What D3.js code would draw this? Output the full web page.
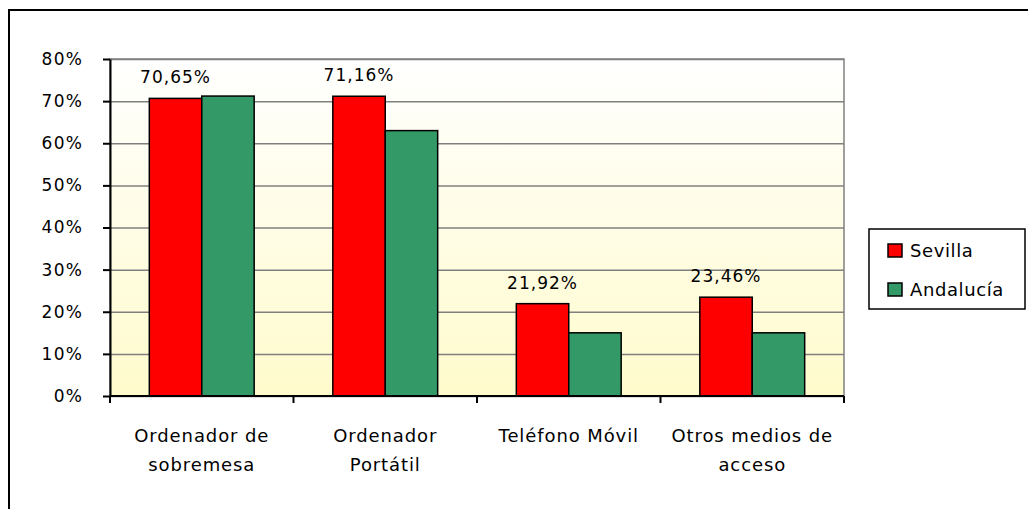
<!DOCTYPE html>
<html>
<head>
<meta charset="utf-8">
<script src="https://cdn.jsdelivr.net/npm/d3@7"></script>
<style>
  body { margin: 0; background: #fff; }
  text { font-family: "DejaVu Sans", sans-serif; fill: #000; }
</style>
</head>
<body>
<svg id="chart"></svg>
<script>
// data
var categories = ["Ordenador de\nsobremesa", "Ordenador\nPortátil", "Teléfono Móvil", "Otros medios de\nacceso"];
var seriesNames = ["Sevilla", "Andalucía"];
var sevilla = [70.65, 71.16, 21.92, 23.46];
var andalucia = [71.2, 63.0, 15.0, 15.0];
var yTicks = [0, 10, 20, 30, 40, 50, 60, 70, 80];

var width = 1028;
var height = 509;
var plot = {left: 110, right: 844, top: 59, bottom: 396};
var colors = {"Sevilla": "#ff0000", "Andalucía": "#339966"};

var svg = d3.select("#chart")
    .attr("width", width)
    .attr("height", height);

// outer chart border
svg.append("rect")
    .attr("x", 9).attr("y", 10)
    .attr("width", 1040).attr("height", 520)
    .attr("fill", "#fff")
    .attr("stroke", "#000")
    .attr("stroke-width", 2);

var defs = svg.append("defs");
var grad = defs.append("linearGradient")
    .attr("id", "bg")
    .attr("x1", 0).attr("y1", 0).attr("x2", 0).attr("y2", 1);
grad.append("stop").attr("offset", "0%").attr("stop-color", "#ffffff");
grad.append("stop").attr("offset", "100%").attr("stop-color", "#fffbcc");

var xScale = d3.scaleBand()
    .domain(categories)
    .range([plot.left, plot.right]);

var xInner = d3.scaleBand()
    .domain(seriesNames)
    .range([0, xScale.bandwidth()])
    .paddingOuter(0.75);

var yScale = d3.scaleLinear()
    .domain([0, 80])
    .range([plot.bottom, plot.top]);

// plot area background
svg.append("rect")
    .attr("x", plot.left).attr("y", plot.top)
    .attr("width", plot.right - plot.left)
    .attr("height", plot.bottom - plot.top)
    .attr("fill", "url(#bg)")
    .attr("stroke", "#808080")
    .attr("stroke-width", 1.5);

// gridlines
svg.append("g")
    .attr("transform", "translate(" + plot.left + ",0)")
    .call(d3.axisLeft(yScale)
        .tickValues(yTicks)
        .tickSize(-(plot.right - plot.left))
        .tickFormat(""))
    .call(g => g.select(".domain").remove())
    .selectAll("line")
      .attr("stroke", "#808080")
      .attr("stroke-width", 1.5);

// bars
var rows = categories.map(function(c, i) {
  return {cat: c, values: [
    {name: "Sevilla", value: sevilla[i]},
    {name: "Andalucía", value: andalucia[i]}
  ]};
});

var groups = svg.selectAll(".group")
  .data(rows)
  .enter()
  .append("g")
    .attr("class", "group")
    .attr("transform", d => "translate(" + xScale(d.cat) + ",0)");

groups.selectAll("rect")
  .data(d => d.values)
  .enter()
  .append("rect")
    .attr("x", d => xInner(d.name))
    .attr("y", d => yScale(d.value))
    .attr("width", xInner.bandwidth())
    .attr("height", d => yScale(0) - yScale(d.value))
    .attr("fill", d => colors[d.name])
    .attr("stroke", "#000")
    .attr("stroke-width", 1.5);

// value labels on Sevilla bars
var fmt = d3.format(".2f");
groups.append("text")
    .attr("x", xInner("Sevilla") + xInner.bandwidth() / 2)
    .attr("y", (d, i) => yScale(sevilla[i]) - 15)
    .attr("text-anchor", "middle")
    .style("font-size", "17px")
    .style("letter-spacing", "1px")
    .text((d, i) => fmt(sevilla[i]).replace(".", ",") + "%");

// y axis
var yAxisG = svg.append("g")
    .attr("transform", "translate(" + plot.left + ",0)")
    .call(d3.axisLeft(yScale)
        .tickValues(yTicks)
        .tickSize(7)
        .tickSizeOuter(0)
        .tickFormat(d => d + "%"));
yAxisG.select(".domain").attr("stroke", "#000").attr("stroke-width", 2);
yAxisG.selectAll(".tick line").attr("stroke", "#000").attr("stroke-width", 2);
yAxisG.selectAll(".tick text")
    .attr("x", -27)
    .style("font-family", "DejaVu Sans")
    .style("font-size", "17px")
    .style("letter-spacing", "1.2px");

// x axis line and category ticks
var xAxisG = svg.append("g")
    .attr("transform", "translate(0," + plot.bottom + ")");
xAxisG.append("line")
    .attr("x1", plot.left).attr("x2", plot.right)
    .attr("stroke", "#000").attr("stroke-width", 2);
xAxisG.selectAll(".xtick")
  .data(categories.map(c => xScale(c)).concat([xScale.range()[1]]))
  .enter()
  .append("line")
    .attr("x1", d => d).attr("x2", d => d)
    .attr("y1", 0).attr("y2", 7)
    .attr("stroke", "#000").attr("stroke-width", 2);

xAxisG.selectAll(".xlabel")
  .data(categories)
  .enter()
  .append("text")
    .attr("text-anchor", "middle")
    .attr("transform", d => "translate(" + (xScale(d) + xScale.bandwidth() / 2) + ",46)")
    .style("font-size", "18px")
    .style("letter-spacing", "0.9px")
    .each(function(d) {
      var t = d3.select(this);
      d.split("\n").forEach(function(line, i) {
        t.append("tspan")
          .attr("x", 0)
          .attr("y", i * 29)
          .text(line);
      });
    });

// legend
var legend = svg.append("g").attr("transform", "translate(869,229)");
legend.append("rect")
    .attr("width", 156).attr("height", 80)
    .attr("fill", "#fff")
    .attr("stroke", "#000")
    .attr("stroke-width", 1.5);
var items = legend.selectAll(".item")
  .data(seriesNames)
  .enter()
  .append("g")
    .attr("transform", (d, i) => "translate(19," + (15 + i * 39) + ")");
items.append("rect")
    .attr("width", 14).attr("height", 13)
    .attr("fill", d => colors[d])
    .attr("stroke", "#000")
    .attr("stroke-width", 1.5);
items.append("text")
    .attr("x", 22).attr("y", 13)
    .style("font-size", "18px")
    .style("letter-spacing", "0.6px")
    .text(d => d);
</script>
</body>
</html>
